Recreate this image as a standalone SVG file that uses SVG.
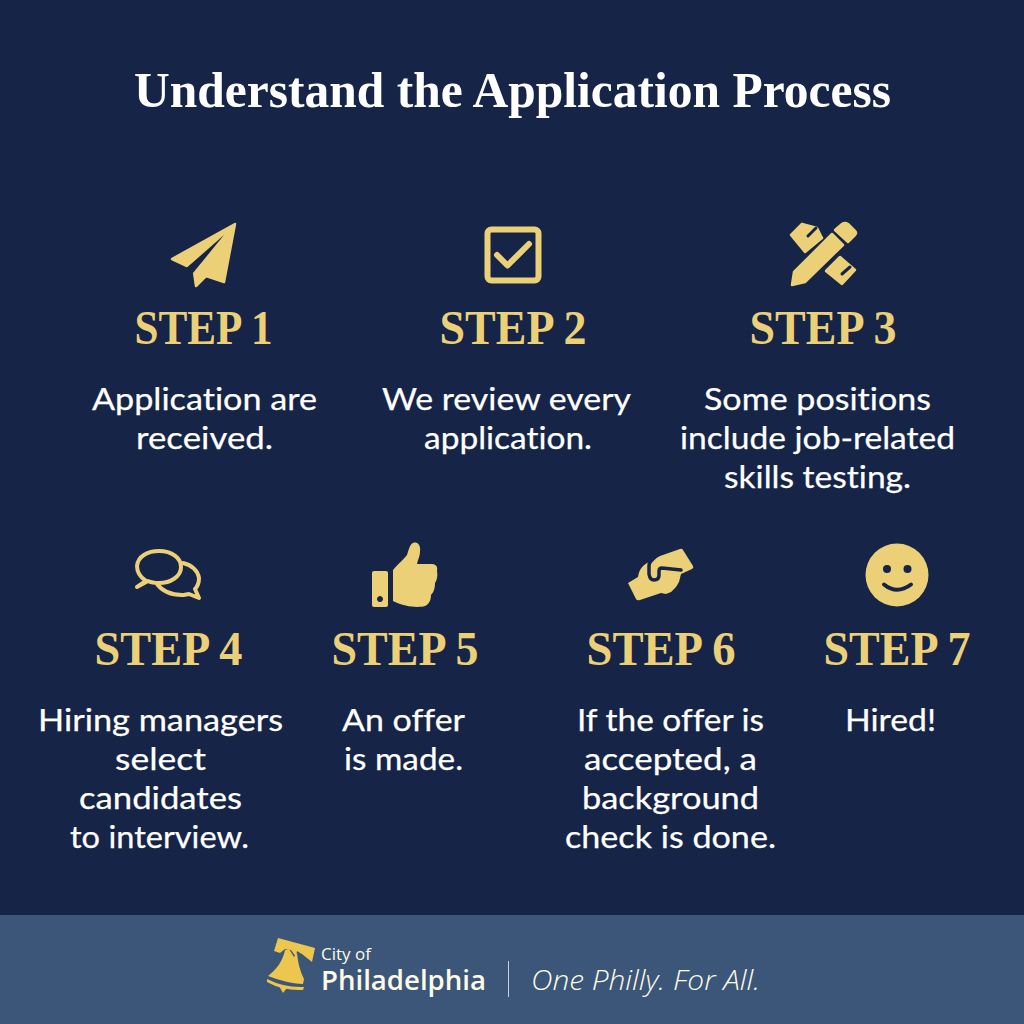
<svg xmlns="http://www.w3.org/2000/svg" width="1024" height="1024" viewBox="0 0 1024 1024">
<style>
.title{font-family:"Liberation Serif",serif;font-weight:700;font-size:51px;fill:#fff}
.step{font-family:"Liberation Serif",serif;font-weight:700;font-size:48px;fill:#ecd078}
.body{font-family:Lato,"Liberation Sans",sans-serif;font-size:31px;fill:#fff;font-variant-ligatures:none;stroke:#fff;stroke-width:.25}
.gold{fill:#ecd078}
.goldj{fill:#ecd078;stroke:#ecd078;stroke-width:2.500;stroke-linejoin:round}
.line{fill:none;stroke:#ecd078;stroke-linecap:round;stroke-linejoin:round}
.dark{fill:none;stroke:#152447;stroke-linecap:round;stroke-linejoin:round}
.foot{font-family:"Open Sans",sans-serif;fill:#fdfbe6}
</style>
<rect width="1024" height="1024" fill="#152447"/>
<rect y="915" width="1024" height="109" fill="#3b5679"/>
<text class="title" x="134" y="107" textLength="757" lengthAdjust="spacingAndGlyphs">Understand the Application Process</text>

<g id="step1">
<path class="goldj" d="M235 224L172 259L187 266L224 235L194 272L196 286L206 276L224 282Z"/>
<path fill="#152447" d="M224 235L186.500 268L193 273Z"/>
<text class="step" x="134.500" y="344" textLength="138" lengthAdjust="spacingAndGlyphs">STEP 1</text>
<text class="body" x="92" y="410" textLength="225" lengthAdjust="spacingAndGlyphs">Application are</text>
<text class="body" x="136" y="449" textLength="137" lengthAdjust="spacingAndGlyphs">received.</text>
</g>
<g id="step2">
<rect class="line" x="487.500" y="229.500" width="51" height="51" rx="4" stroke-width="6"/>
<path class="line" stroke-width="6" d="M497 255L507.500 265.500L529 244"/>
<text class="step" x="439.500" y="344" textLength="147" lengthAdjust="spacingAndGlyphs">STEP 2</text>
<text class="body" x="382" y="410" textLength="249" lengthAdjust="spacingAndGlyphs">We review every</text>
<text class="body" x="424" y="449" textLength="168" lengthAdjust="spacingAndGlyphs">application.</text>
</g>
<g id="step3">
<path class="goldj" d="M792 285L794 272L832 234L843 245L805 282Z"/>
<path class="goldj" d="M835 230L842 224Q845 222 848 224L855 231Q857 233 855 235L848 242Z"/>
<path class="goldj" d="M791 235L802 224L822 238L805 252Z"/>
<path class="goldj" d="M802 224L817 228L822 238Z"/>
<path class="dark" stroke-width="3" d="M816 228L808 236"/>
<path class="goldj" d="M826 271L840 257L855 270L842 284Z"/>
<path class="dark" stroke-width="3" d="M850 267L842 274"/>
<text class="step" x="749.500" y="344" textLength="147" lengthAdjust="spacingAndGlyphs">STEP 3</text>
<text class="body" x="704" y="410" textLength="227" lengthAdjust="spacingAndGlyphs">Some positions</text>
<text class="body" x="680" y="449" textLength="275" lengthAdjust="spacingAndGlyphs">include job-related</text>
<text class="body" x="724" y="488" textLength="187" lengthAdjust="spacingAndGlyphs">skills testing.</text>
</g>
<g id="step4">
<path class="line" stroke-width="4" d="M137 587L146 581C140 577 137 572 137 566C138 556 148 551 159 551C172 551 181 558 181 567C181 577 170 583 159 583C155 583 152 583 148 581ZM157 584C163 592 171 595 182 595C185 595 187 594 189 594L199 598L195 589C198 586 199 582 199 578C198 571 192 565 183 563"/>
<text class="step" x="94.500" y="665" textLength="148" lengthAdjust="spacingAndGlyphs">STEP 4</text>
<text class="body" x="38" y="731" textLength="245" lengthAdjust="spacingAndGlyphs">Hiring managers</text>
<text class="body" x="115" y="770" textLength="91" lengthAdjust="spacingAndGlyphs">select</text>
<text class="body" x="79" y="809" textLength="163" lengthAdjust="spacingAndGlyphs">candidates</text>
<text class="body" x="70" y="848" textLength="179" lengthAdjust="spacingAndGlyphs">to interview.</text>
</g>
<g id="step5">
<path class="gold" fill-rule="evenodd" d="M374 571H386Q388 571 388 573V605Q388 607 386 607H374Q372 607 372 605V573Q372 571 374 571ZM380 596a3 3 0 1 0 .01 0Z"/>
<path class="gold" d="M393 570C399 563 404 559 407 555C409 549 410 544 413 543C418 541 421 546 420 552C420 556 418 559 417 564H432C436 564 438 567 437 571C438 575 437 580 435 583C435 588 434 592 431 595C431 600 429 604 425 606C418 608 405 607 393 601Z"/>
<text class="step" x="331.500" y="665" textLength="147" lengthAdjust="spacingAndGlyphs">STEP 5</text>
<text class="body" x="342" y="731" textLength="123" lengthAdjust="spacingAndGlyphs">An offer</text>
<text class="body" x="344" y="770" textLength="119" lengthAdjust="spacingAndGlyphs">is made.</text>
</g>
<g id="step6">
<path class="gold" d="M628 583L638 577C639 570 642 566 647 563L660 556L680 549Q682 548 683 550L693 566Q694 568 692 569L681 574L679 582L676 587L671 592L666 594L661 593L640 600Q637 601 636 599Z"/>
<path class="dark" stroke-width="3.500" d="M656 556L651 561Q649 563 649 566V574Q650 580 654 580Q659 580 659 575V571Q659 568 662 568L681 570"/>
<text class="step" x="586.500" y="665" textLength="149" lengthAdjust="spacingAndGlyphs">STEP 6</text>
<text class="body" x="577" y="731" textLength="187" lengthAdjust="spacingAndGlyphs">If the offer is</text>
<text class="body" x="584" y="770" textLength="173" lengthAdjust="spacingAndGlyphs">accepted, a</text>
<text class="body" x="582" y="809" textLength="177" lengthAdjust="spacingAndGlyphs">background</text>
<text class="body" x="565" y="848" textLength="211" lengthAdjust="spacingAndGlyphs">check is done.</text>
</g>
<g id="step7">
<circle class="gold" cx="897" cy="575" r="31.500"/>
<circle cx="887" cy="569" r="4" fill="#152447"/>
<circle cx="907.500" cy="569" r="4" fill="#152447"/>
<path class="dark" stroke-width="4" d="M884 584.500Q897 595 911 584.500"/>
<text class="step" x="823.500" y="665" textLength="147" lengthAdjust="spacingAndGlyphs">STEP 7</text>
<text class="body" x="845" y="731" textLength="91" lengthAdjust="spacingAndGlyphs">Hired!</text>
</g>
<g id="footer">
<path d="M278 938L315 948L312 962L302 954L297 951L296 957L291 950L285 949L280 953L274 951Z" fill="#edc64f"/>
<path d="M285 950L289 949L294 957L297 953C298 964 301 973 304 979L303 984C292 984 279 980 268 976C276 970 283 961 285 950Z" fill="#edc64f"/>
<path d="M267 979Q285 988 304 987L303 990Q283 991 267 982Z" fill="#edc64f"/>
<path d="M279 986L287 988L283 993Z" fill="#edc64f"/>
<text class="foot" x="321" y="960" font-size="17" textLength="50" lengthAdjust="spacingAndGlyphs">City of</text>
<text class="foot" x="321" y="990" font-size="27" font-weight="600" textLength="165" lengthAdjust="spacingAndGlyphs">Philadelphia</text>
<rect x="508" y="961" width="1" height="36" fill="#c9d0d8"/>
<text class="foot" x="531" y="990" font-size="28" font-style="italic" font-weight="300" textLength="229" lengthAdjust="spacingAndGlyphs">One Philly. For All.</text>
</g>
</svg>
